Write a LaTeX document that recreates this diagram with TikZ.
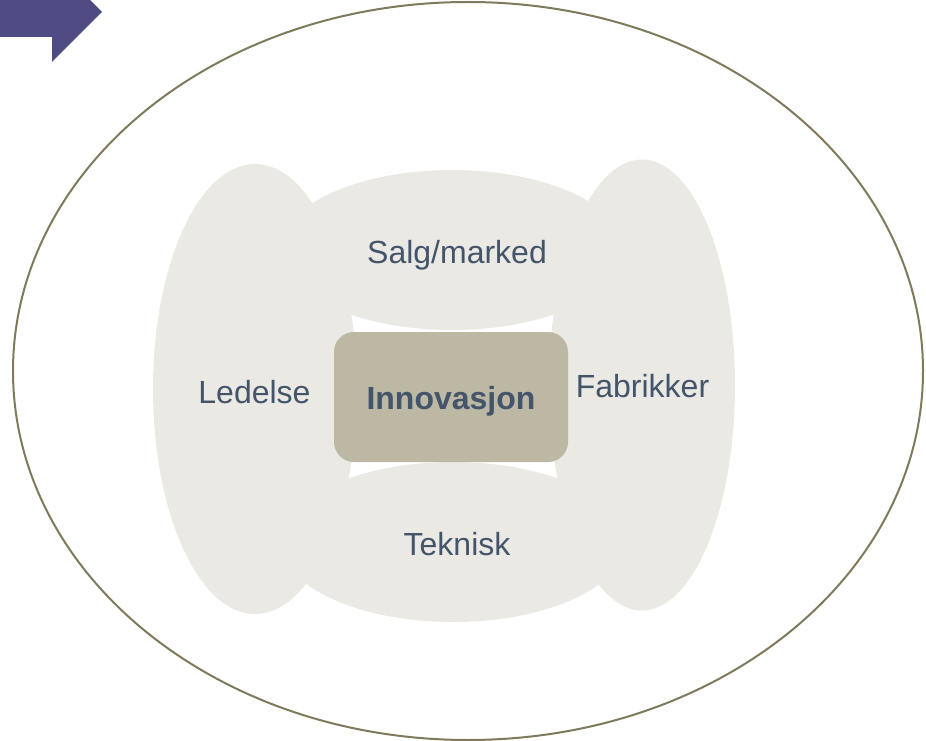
\documentclass[tikz,border=0pt]{standalone}
\usepackage{fontspec}
\setmainfont{Liberation Sans}
\usetikzlibrary{shapes.geometric}
\definecolor{blobgray}{HTML}{EAE9E4}
\definecolor{boxtan}{HTML}{BCB8A4}
\definecolor{txtblue}{HTML}{44546A}
\definecolor{olive}{HTML}{7F7A5C}
\definecolor{arrowpurple}{HTML}{4E4C82}
\tikzset{
  blob/.style={ellipse, fill=blobgray, draw=none, inner sep=0pt},
  innobox/.style={rectangle, rounded corners=20pt, fill=boxtan, draw=none, inner sep=0pt},
  lbl/.style={anchor=base, text=txtblue, font=\fontsize{32}{38}\selectfont, inner sep=0pt},
  outerring/.style={draw=olive, line width=2pt},
}
\begin{document}
\begin{tikzpicture}[x=1pt,y=-1pt]
\useasboundingbox (0,0) rectangle (926,741);
\clip (0,0) rectangle (926,741);
% corner arrow
\fill[arrowpurple] (-20,-13) -- (52,-13) -- (52,-38) -- (102,12) -- (52,62) -- (52,37) -- (-20,37) -- cycle;
% outer ellipse
\draw[outerring] (468,371) ellipse [x radius=455, y radius=369];
% blobs
\node[blob, minimum width=344pt, minimum height=160pt] (top) at (452,250) {};
\node[blob, minimum width=344pt, minimum height=160pt] (bot) at (453,542) {};
\node[blob, minimum width=204pt, minimum height=450pt] (lft) at (255,389) {};
\node[blob, minimum width=186pt, minimum height=451pt] (rgt) at (642,385) {};
% centre box
\node[innobox, minimum width=234pt, minimum height=130pt] (inn) at (451,397) {};
% labels
\node[lbl] (salg) at (457,263) {Salg/marked};
\node[lbl] (led) at (254.5,403) {Ledelse};
\node[lbl] (fab) at (642.5,397) {Fabrikker};
\node[lbl] (tek) at (457,555) {Teknisk};
\node[lbl, font=\fontsize{32}{38}\selectfont\bfseries] (innt) at (451,409) {Innovasjon};
\end{tikzpicture}
\end{document}
